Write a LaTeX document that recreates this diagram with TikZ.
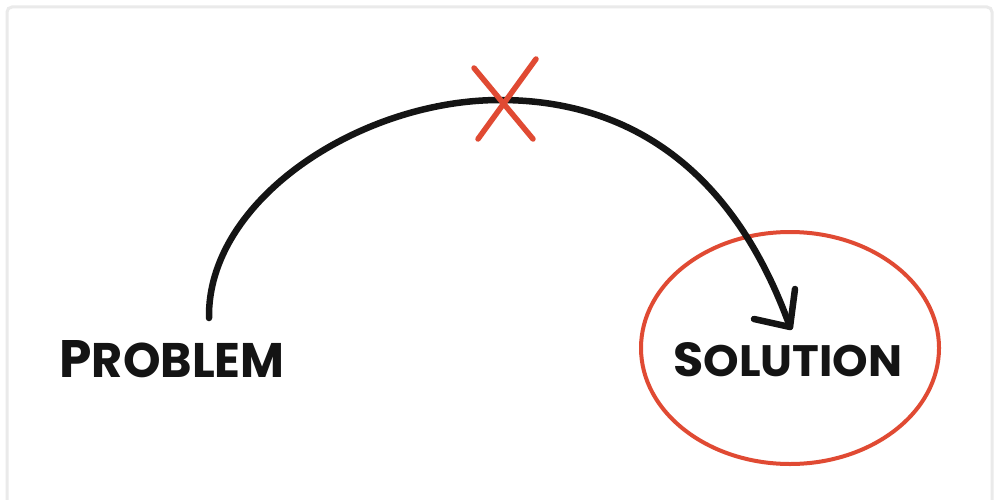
\documentclass[tikz,border=0pt]{standalone}
\usepackage{fontspec}
\newfontfamily\hand{Poppins}
\usetikzlibrary{shapes.geometric}
\definecolor{inkred}{HTML}{E04A33}
\definecolor{ink}{HTML}{141414}
\definecolor{framegray}{HTML}{EAEAEA}
\tikzset{
  label text/.style={inner sep=0pt, text=ink},
  stroke/.style={draw=ink, line width=6.5pt, line cap=round, line join=round},
  cross/.style={draw=inkred, line width=5.5pt, line cap=round},
  ring/.style={draw=inkred, line width=4pt, ellipse, minimum width=298pt, minimum height=232pt, inner sep=0pt},
}
\begin{document}
\begin{tikzpicture}[x=1pt,y=-1pt]
\useasboundingbox (0,0) rectangle (1000,500);
\fill[white] (0,0) rectangle (1000,500);
\draw[framegray, line width=3pt, rounded corners=5pt] (7,510) -- (7,7) -- (992,7) -- (992,510);

\node[label text] (problem) at (172,359) {\resizebox{225pt}{37pt}{\hand\bfseries\fontsize{38}{38}\selectfont P\fontsize{35}{35}\selectfont ROBLEM}};
\node[label text] (solution) at (788,360) {\resizebox{229pt}{34pt}{\hand\bfseries\fontsize{38}{38}\selectfont S\fontsize{35}{35}\selectfont OLUTION}};
\node[ring] (ring) at (790,348) {};

\coordinate (start) at (209,318);
\coordinate (top) at (500,100);
\coordinate (tip) at (790,327);
\coordinate (armL) at (754,319);
\coordinate (armU) at (795,289);

\draw[stroke] (start) .. controls (207,200) and (360,100) .. (top)
  .. controls (620,100) and (730,160) .. (tip);
\draw[stroke] (armL) -- (tip) -- (armU);

\coordinate (x1a) at (474,68);
\coordinate (x1b) at (533,139);
\coordinate (x2a) at (536,59);
\coordinate (x2b) at (478,139);
\draw[cross] (x1a) -- (x1b);
\draw[cross] (x2a) -- (x2b);
\end{tikzpicture}
\end{document}
